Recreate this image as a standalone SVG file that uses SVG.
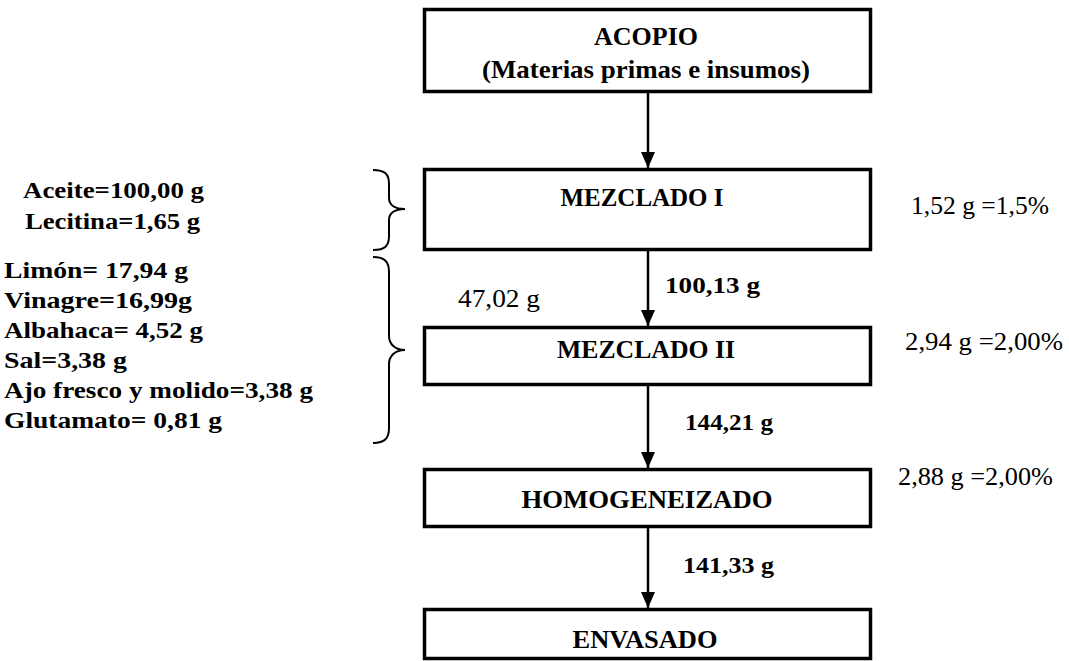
<svg xmlns="http://www.w3.org/2000/svg" width="1069" height="661" viewBox="0 0 1069 661">
<style>
.box{fill:#fff;stroke:#000;stroke-width:3.5}
.t{font-family:"Liberation Serif","Times New Roman",serif;fill:#000}
.bx{font-size:26px;font-weight:bold;text-anchor:middle}
.lbl{font-size:24px;font-weight:bold}
.val{font-size:23px;font-weight:bold}
.reg{font-size:25px}
.con{stroke:#000;stroke-width:2.5;fill:none}
.brace{stroke:#000;stroke-width:2;fill:none}
</style>
<defs>
<marker id="ah" markerWidth="16" markerHeight="14" refX="16" refY="7" orient="auto" markerUnits="userSpaceOnUse" viewBox="0 0 16 14">
<path d="M0,0 L16,7 L0,14 Z" fill="#000"/>
</marker>
</defs>
<rect width="1069" height="661" fill="#fff"/>

<g id="acopio">
<rect class="box" x="424.5" y="9.5" width="446" height="82"/>
<text class="t bx" x="646" y="45">ACOPIO</text>
<text class="t bx" x="646" y="78" textLength="328" lengthAdjust="spacingAndGlyphs">(Materias primas e insumos)</text>
</g>

<g id="mezclado1">
<rect class="box" x="424.5" y="169.5" width="446" height="80"/>
<text class="t bx" x="642" y="206" textLength="163" lengthAdjust="spacingAndGlyphs">MEZCLADO I</text>
</g>

<g id="mezclado2">
<rect class="box" x="424.5" y="327.5" width="446" height="57"/>
<text class="t bx" x="646" y="358" textLength="178" lengthAdjust="spacingAndGlyphs">MEZCLADO II</text>
</g>

<g id="homogeneizado">
<rect class="box" x="424.5" y="469.5" width="446" height="57"/>
<text class="t bx" x="647" y="508" textLength="251" lengthAdjust="spacingAndGlyphs">HOMOGENEIZADO</text>
</g>

<g id="envasado">
<rect class="box" x="424.5" y="609.5" width="446" height="49"/>
<text class="t bx" x="645" y="648" textLength="145" lengthAdjust="spacingAndGlyphs">ENVASADO</text>
</g>

<g id="connectors">
<line class="con" x1="648" y1="92" x2="648" y2="168" marker-end="url(#ah)"/>
<line class="con" x1="648" y1="251" x2="648" y2="326" marker-end="url(#ah)"/>
<line class="con" x1="648" y1="386" x2="648" y2="468" marker-end="url(#ah)"/>
<line class="con" x1="648" y1="528" x2="648" y2="608" marker-end="url(#ah)"/>
<text class="t val" x="665" y="293" textLength="95" lengthAdjust="spacingAndGlyphs">100,13 g</text>
<text class="t reg" x="458" y="307" textLength="82" lengthAdjust="spacingAndGlyphs">47,02 g</text>
<text class="t val" x="685" y="430" textLength="88" lengthAdjust="spacingAndGlyphs">144,21 g</text>
<text class="t val" x="683" y="573" textLength="91" lengthAdjust="spacingAndGlyphs">141,33 g</text>
</g>

<g id="losses">
<text class="t reg" x="911" y="214" textLength="138" lengthAdjust="spacingAndGlyphs">1,52 g =1,5%</text>
<text class="t reg" x="905" y="350" textLength="158" lengthAdjust="spacingAndGlyphs">2,94 g =2,00%</text>
<text class="t reg" x="898" y="485" textLength="155" lengthAdjust="spacingAndGlyphs">2,88 g =2,00%</text>
</g>

<g id="inputs1">
<text class="t lbl" x="23" y="198" textLength="181" lengthAdjust="spacingAndGlyphs">Aceite=100,00 g</text>
<text class="t lbl" x="25" y="229" textLength="175" lengthAdjust="spacingAndGlyphs">Lecitina=1,65 g</text>
<path class="brace" d="M373,170 C385,170 389,174 389,184 L389,198 C389,205 395,209 405,209 C395,209 389,213 389,220 L389,236 C389,246 385,250 373,250"/>
</g>

<g id="inputs2">
<text class="t lbl" x="4" y="278" textLength="184" lengthAdjust="spacingAndGlyphs">Limón= 17,94 g</text>
<text class="t lbl" x="4" y="308" textLength="188" lengthAdjust="spacingAndGlyphs">Vinagre=16,99g</text>
<text class="t lbl" x="4" y="338" textLength="199" lengthAdjust="spacingAndGlyphs">Albahaca= 4,52 g</text>
<text class="t lbl" x="4" y="368" textLength="123" lengthAdjust="spacingAndGlyphs">Sal=3,38 g</text>
<text class="t lbl" x="4" y="398" textLength="309" lengthAdjust="spacingAndGlyphs">Ajo fresco y molido=3,38 g</text>
<text class="t lbl" x="4" y="428" textLength="218" lengthAdjust="spacingAndGlyphs">Glutamato= 0,81 g</text>
<path class="brace" d="M373,257 C385,257 389,262 389,272 L389,336 C389,344 395,350 405,350 C395,350 389,356 389,364 L389,428 C389,438 385,443 373,443"/>
</g>
</svg>
